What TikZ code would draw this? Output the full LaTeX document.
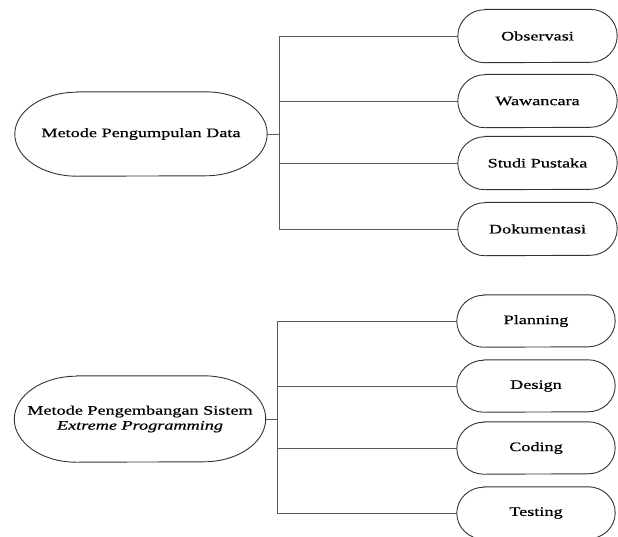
\documentclass[tikz,border=0pt]{standalone}
\usepackage{fontspec}
\setmainfont{Liberation Serif}[FakeStretch=1.4, FakeBold=0.6]
\tikzset{
  pill/.style={inner sep=0pt, align=center, font=\fontsize{13}{15}\selectfont},
  outline/.style={draw=black!80, line width=0.9pt},
  link/.style={draw=black!65, line width=1pt}
}
% draws a capsule with elliptical ends round a named node: name, end radius, half height
\newcommand\pillpath[3]{%
  \draw[outline] ([xshift=#2]#1.north west) -- ([xshift=-#2]#1.north east)
    arc[start angle=90, end angle=-90, x radius=#2, y radius=#3]
    -- ([xshift=#2]#1.south west)
    arc[start angle=270, end angle=90, x radius=#2, y radius=#3] -- cycle;}
\begin{document}
\begin{tikzpicture}[x=1pt, y=-1pt]
\useasboundingbox (0,0) rectangle (618,536);
\fill[white] (0,0) rectangle (618,536);

% data collection methods
\node[pill, minimum width=252pt, minimum height=84pt] (m1) at (141,134) {Metode Pengumpulan Data};
\node[pill, minimum width=159pt, minimum height=53pt] (o1) at (537.5,36) {Observasi};
\node[pill, minimum width=159pt, minimum height=53pt] (o2) at (537.5,101) {Wawancara};
\node[pill, minimum width=159pt, minimum height=53pt] (o3) at (537.5,163) {Studi Pustaka};
\node[pill, minimum width=159pt, minimum height=53pt] (o4) at (537.5,229) {Dokumentasi};
\coordinate (j1) at (279,134);

% system development method
\node[pill, minimum width=251pt, minimum height=86pt] (m2) at (140,419) {Metode Pengembangan Sistem\\\textit{Extreme Programming}};
\node[pill, minimum width=158pt, minimum height=52pt] (p1) at (536,321) {Planning};
\node[pill, minimum width=158pt, minimum height=52pt] (p2) at (536,386) {Design};
\node[pill, minimum width=158pt, minimum height=52pt] (p3) at (536,448) {Coding};
\node[pill, minimum width=158pt, minimum height=52pt] (p4) at (536,513) {Testing};
\coordinate (j2) at (277,419);

\pillpath{m1}{62pt}{42pt}
\pillpath{m2}{62pt}{43pt}
\foreach \n in {o1,o2,o3,o4} {\pillpath{\n}{27pt}{26.5pt}}
\foreach \n in {p1,p2,p3,p4} {\pillpath{\n}{27pt}{26pt}}

\draw[link] (m1.east) -- (j1);
\foreach \n in {o1,o2,o3,o4} {\draw[link] (j1) |- (\n.west);}
\draw[link] (m2.east) -- (j2);
\foreach \n in {p1,p2,p3,p4} {\draw[link] (j2) |- (\n.west);}
\end{tikzpicture}
\end{document}
